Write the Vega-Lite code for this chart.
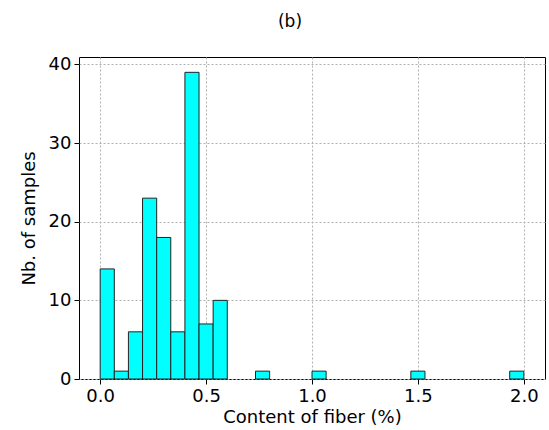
{
  "$schema": "https://vega.github.io/schema/vega-lite/v6.json",
  "width": 466,
  "height": 322,
  "autosize": {"type": "none"},
  "padding": {"left": 79, "top": 57, "right": 4, "bottom": 51},
  "background": "white",
  "title": {"text": "(b)", "fontSize": 17, "font": "DejaVu Sans", "fontWeight": "normal", "offset": 24, "dx": -22, "color": "black"},
  "config": {
    "view": {"stroke": "black", "strokeWidth": 1},
    "axis": {
      "labelFont": "DejaVu Sans",
      "titleFont": "DejaVu Sans",
      "labelFontSize": 18,
      "titleFontSize": 18,
      "titleFontWeight": "normal",
      "labelColor": "black",
      "titleColor": "black",
      "tickColor": "black",
      "tickSize": 5,
      "domain": false,
      "zindex": 1,
      "gridColor": "#b0b0b0",
      "gridDash": [2, 2],
      "gridWidth": 1
    }
  },
  "data": {
    "values": [
      {"x0": 0.0, "x1": 0.0667, "count": 14},
      {"x0": 0.0667, "x1": 0.1333, "count": 1},
      {"x0": 0.1333, "x1": 0.2, "count": 6},
      {"x0": 0.2, "x1": 0.2667, "count": 23},
      {"x0": 0.2667, "x1": 0.3333, "count": 18},
      {"x0": 0.3333, "x1": 0.4, "count": 6},
      {"x0": 0.4, "x1": 0.4667, "count": 39},
      {"x0": 0.4667, "x1": 0.5333, "count": 7},
      {"x0": 0.5333, "x1": 0.6, "count": 10},
      {"x0": 0.7333, "x1": 0.8, "count": 1},
      {"x0": 1.0, "x1": 1.0667, "count": 1},
      {"x0": 1.4667, "x1": 1.5333, "count": 1},
      {"x0": 1.9333, "x1": 2.0, "count": 1}
    ]
  },
  "mark": {"type": "bar", "fill": "#00ffff", "stroke": "#222222", "strokeWidth": 1},
  "encoding": {
    "x": {
      "field": "x0", "type": "quantitative",
      "scale": {"domain": [-0.1, 2.1], "nice": false, "zero": false},
      "axis": {"values": [0, 0.5, 1, 1.5, 2], "format": ".1f", "title": "Content of fiber (%)", "titlePadding": 3, "labelPadding": 3}
    },
    "x2": {"field": "x1"},
    "y": {
      "field": "count", "type": "quantitative",
      "scale": {"domain": [0, 40.95], "nice": false},
      "axis": {"values": [0, 10, 20, 30, 40], "title": "Nb. of samples", "titlePadding": 10, "labelPadding": 3}
    },
    "y2": {"datum": 0}
  }
}
